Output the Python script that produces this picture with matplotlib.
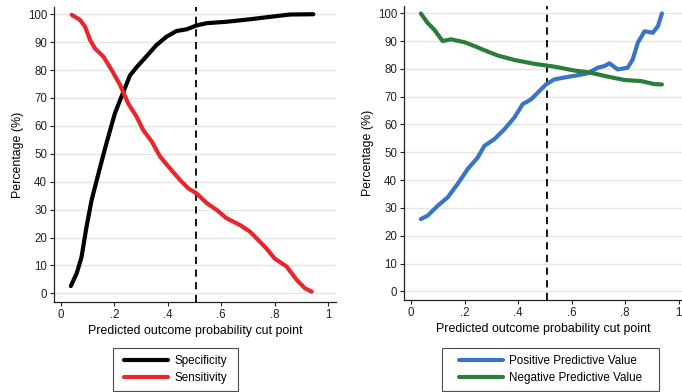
import matplotlib.pyplot as plt
from matplotlib.path import Path
import numpy as np

plt.rcParams['font.family'] = ['Liberation Sans', 'DejaVu Sans']

# cut points and curves
spec_x = [0.037, 0.059, 0.077, 0.096, 0.115, 0.146, 0.171, 0.202, 0.233, 0.258, 0.283,
          0.321, 0.358, 0.396, 0.433, 0.471, 0.508, 0.546, 0.62, 0.708, 0.795, 0.858, 0.945]
spec_y = [2.6, 7.2, 13, 24, 33.5, 45, 54, 64.5, 72, 78, 81,
          85, 89, 92, 94, 94.6, 96, 96.8, 97.3, 98.2, 99.2, 99.9, 100]

sens_x = [0.04, 0.071, 0.09, 0.109, 0.127, 0.159, 0.19, 0.221, 0.252, 0.283, 0.308, 0.34,
          0.371, 0.408, 0.446, 0.477, 0.508, 0.546, 0.583, 0.62, 0.67, 0.708, 0.745, 0.77,
          0.80, 0.845, 0.883, 0.914, 0.939]
sens_y = [99.8, 98, 95.6, 90.8, 87.8, 84.8, 80, 74.7, 68, 63.3, 58.5, 54.4,
          49, 44.8, 40.6, 37.6, 35.8, 32.3, 29.9, 26.9, 24.5, 22.1, 18.5, 16,
          12.5, 9.6, 4.8, 1.8, 0.6]

ppv_x = [0.037, 0.062, 0.1, 0.137, 0.174, 0.212, 0.249, 0.274, 0.311, 0.349, 0.386, 0.417,
         0.448, 0.473, 0.504, 0.535, 0.585, 0.623, 0.66, 0.697, 0.722, 0.741, 0.772, 0.809,
         0.828, 0.847, 0.872, 0.903, 0.922, 0.937]
ppv_y = [26, 27.2, 30.8, 33.8, 38.6, 44, 48.1, 52.3, 54.7, 58.3, 62.5, 67.3,
         69, 71.4, 74.4, 76.2, 77.1, 77.7, 78.4, 80.4, 81, 82, 79.8, 80.4,
         83.4, 89.4, 93.5, 93, 95.3, 99.9]

npv_x = [0.037, 0.062, 0.087, 0.118, 0.149, 0.199, 0.237, 0.274, 0.324, 0.386, 0.461,
         0.535, 0.61, 0.672, 0.735, 0.797, 0.859, 0.909, 0.937]
npv_y = [99.9, 96.5, 94.1, 90, 90.6, 89.6, 88.2, 86.7, 84.8, 83.2, 81.8,
         80.8, 79.4, 78.6, 77.2, 76, 75.6, 74.5, 74.4]

cut_point = 0.507
xticks = [0, 0.2, 0.4, 0.6, 0.8, 1]
xtick_labels = ['0', '.2', '.4', '.6', '.8', '1']
yticks = list(range(0, 101, 10))

fig = plt.figure(figsize=(6.82, 3.92), dpi=100)
ax1 = fig.add_axes([0.0792, 0.2296, 0.4135, 0.7526])
ax2 = fig.add_axes([0.5924, 0.2347, 0.4076, 0.75])


def style_axes(ax, xmax):
    ax.set_xlim(-0.026, xmax)
    ax.set_ylim(-3.1, 102.6)
    ax.set_xticks(xticks, xtick_labels)
    ax.set_yticks(yticks)
    ax.grid(axis='y', color='#e5e5e5', linewidth=1.0)
    ax.set_axisbelow(True)
    for s in ['top', 'right']:
        ax.spines[s].set_visible(False)
    for s in ['left', 'bottom']:
        ax.spines[s].set_color('#222222')
        ax.spines[s].set_linewidth(0.9)
    ax.tick_params(direction='out', length=3, width=0.8, colors='#222222',
                   labelsize=8.3, pad=2)
    ax.axvline(cut_point, color='black', linestyle=(0, (4, 3)), linewidth=1.3, zorder=1)
    ax.set_xlabel('Predicted outcome probability cut point', fontsize=8.9, labelpad=3)
    ax.set_ylabel('Percentage (%)', fontsize=8.9, labelpad=3)


def wide_box(extra):
    # square frame, padded more left/right than top/bottom
    def box(x0, y0, width, height, mutation_size):
        x0 -= extra
        x1 = x0 + width + 2 * extra
        y1 = y0 + height
        return Path([(x0, y0), (x1, y0), (x1, y1), (x0, y1), (x0, y0)], closed=True)
    return box


style_axes(ax1, 1.030)
ax1.plot(spec_x, spec_y, color='black', linewidth=3, solid_capstyle='round', label='Specificity', zorder=3)
ax1.plot(sens_x, sens_y, color='#e8262b', linewidth=3, solid_capstyle='round', label='Sensitivity', zorder=3)

style_axes(ax2, 1.012)
ax2.plot(ppv_x, ppv_y, color='#3a74c6', linewidth=3, solid_capstyle='round',
         label='Positive Predictive Value', zorder=3)
ax2.plot(npv_x, npv_y, color='#2a7d3a', linewidth=3, solid_capstyle='round',
         label='Negative Predictive Value', zorder=3)

for ax, cx, extra in [(ax1, 175.5 / 682, 4), (ax2, 550.5 / 682, 10)]:
    leg = ax.legend(loc='center', bbox_to_anchor=(cx, 1 - 369.5 / 392), bbox_transform=fig.transFigure,
                    fontsize=8.4, frameon=True, fancybox=False, handlelength=3.75,
                    handletextpad=0.55, borderpad=0.6, labelspacing=0.45, borderaxespad=0)
    leg.get_frame().set_boxstyle(wide_box(extra))
    leg.get_frame().set_edgecolor('#222222')
    leg.get_frame().set_linewidth(0.8)

fig.savefig('out.png', dpi=100)
